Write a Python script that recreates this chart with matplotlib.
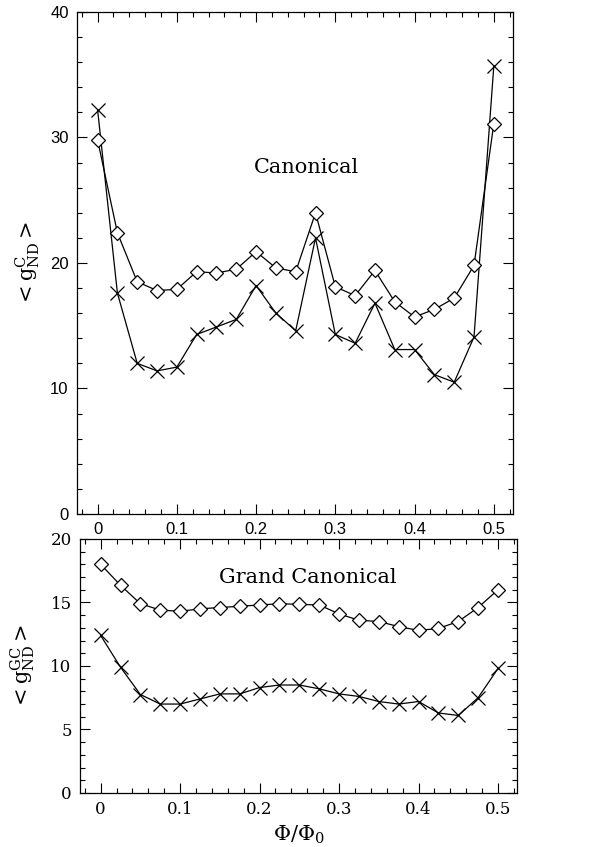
import matplotlib
matplotlib.use('Agg')
import matplotlib.pyplot as plt
from matplotlib.ticker import MultipleLocator

plt.rcParams['font.family'] = 'DejaVu Serif'
plt.rcParams['mathtext.fontset'] = 'dejavuserif'

# flux values Phi/Phi0
phi = [0, 0.025, 0.05, 0.075, 0.1, 0.125, 0.15, 0.175, 0.2, 0.225, 0.25,
       0.275, 0.3, 0.325, 0.35, 0.375, 0.4, 0.425, 0.45, 0.475, 0.5]

# canonical ensemble
can_diam = [29.8, 22.4, 18.5, 17.8, 17.9, 19.3, 19.2, 19.5, 20.9, 19.6, 19.3,
            24.0, 18.1, 17.4, 19.4, 16.9, 15.7, 16.3, 17.2, 19.8, 31.1]
can_cross = [32.2, 17.6, 12.0, 11.4, 11.7, 14.3, 14.9, 15.5, 18.2, 16.0, 14.6,
             22.0, 14.3, 13.6, 16.8, 13.1, 13.1, 11.1, 10.5, 14.1, 35.7]

# grand canonical ensemble
gc_diam = [18.0, 16.35, 14.9, 14.4, 14.3, 14.5, 14.6, 14.7, 14.8, 14.9, 14.85,
           14.8, 14.1, 13.6, 13.5, 13.1, 12.8, 12.95, 13.5, 14.6, 16.0]
gc_cross = [12.4, 9.9, 7.75, 7.0, 7.0, 7.4, 7.8, 7.8, 8.3, 8.5, 8.5,
            8.2, 7.8, 7.6, 7.2, 7.0, 7.2, 6.3, 6.1, 7.5, 9.8]

fig = plt.figure(figsize=(6.13, 8.47), dpi=100)
ax1 = fig.add_axes([0.1256, 0.3932, 0.711, 0.5927])
ax2 = fig.add_axes([0.1305, 0.0638, 0.713, 0.2999])

def estilo(ax, ymax, ymaj, ymin, tickfont):
    ax.set_xlim(-0.026, 0.524)
    ax.set_ylim(0, ymax)
    ax.xaxis.set_major_locator(MultipleLocator(0.1))
    ax.xaxis.set_minor_locator(MultipleLocator(0.02))
    ax.yaxis.set_major_locator(MultipleLocator(ymaj))
    ax.yaxis.set_minor_locator(MultipleLocator(ymin))
    ax.tick_params(which='both', direction='in', top=True, right=True, width=0.8)
    ax.tick_params(which='major', length=7, labelsize=12, pad=6)
    ax.tick_params(which='minor', length=3.5)
    ax.set_xticks([0, 0.1, 0.2, 0.3, 0.4, 0.5])
    ax.set_xticklabels(['0', '0.1', '0.2', '0.3', '0.4', '0.5'])
    for lab in ax.get_xticklabels() + ax.get_yticklabels():
        lab.set_family(tickfont)
    for s in ax.spines.values():
        s.set_linewidth(0.9)

def curvas(ax, yd, yx):
    ax.plot(phi, yx, color='black', lw=0.9, marker='x', ms=9.5, mew=0.9)
    ax.plot(phi, yd, color='black', lw=0.9, marker='D', ms=7, mew=0.9,
            mfc='white')

curvas(ax1, can_diam, can_cross)
estilo(ax1, 40, 10, 2, 'Liberation Sans')
ax1.text(0.264, 27.6, 'Canonical', ha='center', va='center', fontsize=15)
ax1.set_ylabel(r'${<}\mathrm{g}^{\mathrm{C}}_{\mathrm{ND}}{>}$', fontsize=15, labelpad=6)

curvas(ax2, gc_diam, gc_cross)
estilo(ax2, 20, 5, 1, 'DejaVu Serif')
ax2.text(0.261, 17.0, 'Grand Canonical', ha='center', va='center', fontsize=15)
ax2.set_ylabel(r'${<}\mathrm{g}^{\mathrm{GC}}_{\mathrm{ND}}{>}$', fontsize=15, labelpad=10)
ax2.set_xlabel(r'$\Phi/\Phi_0$', fontsize=15, labelpad=4)

fig.savefig('out.png', dpi=100)
